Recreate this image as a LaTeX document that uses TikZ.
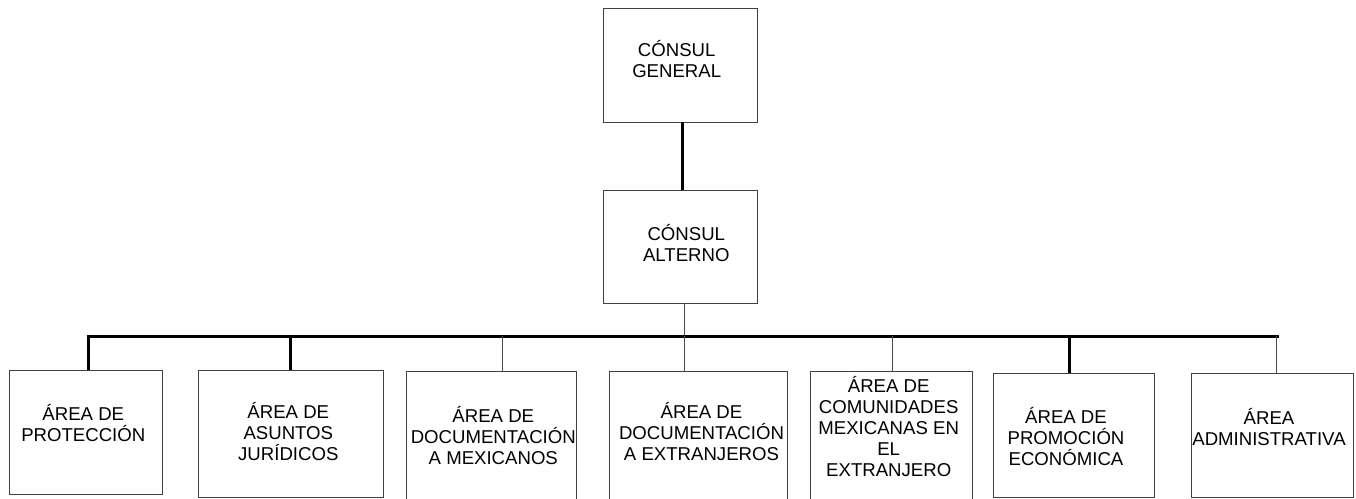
\documentclass[tikz,border=0pt]{standalone}
\usepackage{fontspec}
\setmainfont{Liberation Sans}
\begin{document}
\begin{tikzpicture}[x=1pt,y=-1pt,
  caja/.style={rectangle,draw=black!75,line width=0.8pt,inner sep=0pt},
  rotulo/.style={align=center,inner sep=0pt,anchor=south,font=\fontsize{18.6}{21}\selectfont},
  grueso/.style={line width=3pt},
  fino/.style={draw=black!70,line width=0.9pt}]
\useasboundingbox (0,0) rectangle (1356,498);

\path (680.3,65.3) node[caja,minimum width=154pt,minimum height=113.3pt] (cg) {};
\path (676.7,78.3) node[rotulo] (cgT) {CÓNSUL\\GENERAL};
\path (680.3,246.7) node[caja,minimum width=154pt,minimum height=113.3pt] (ca) {};
\path (686.3,261.7) node[rotulo] (caT) {CÓNSUL\\ALTERNO};

\path (86,432.7) node[caja,minimum width=153.4pt,minimum height=124pt] (prot) {};
\path (83.3,442) node[rotulo] (protT) {ÁREA DE\\PROTECCIÓN};
\path (291,434) node[caja,minimum width=184.6pt,minimum height=126.6pt] (jur) {};
\path (288.3,461.3) node[rotulo] (jurT) {ÁREA DE\\ASUNTOS\\JURÍDICOS};
\path (491.7,436.7) node[caja,minimum width=170pt,minimum height=130.7pt] (docmex) {};
\path (493.3,464.5) node[rotulo] (docmexT) {ÁREA DE\\DOCUMENTACIÓN\\A MEXICANOS};
\path (698.3,436.5) node[caja,minimum width=178pt,minimum height=131pt] (docext) {};
\path (701.5,461.3) node[rotulo] (docextT) {ÁREA DE\\DOCUMENTACIÓN\\A EXTRANJEROS};
\path (891.7,436.7) node[caja,minimum width=162pt,minimum height=130.7pt] (com) {};
\path (888.7,477.3) node[rotulo] (comT) {ÁREA DE\\COMUNIDADES\\MEXICANAS EN\\EL\\EXTRANJERO};
\path (1073.8,435.3) node[caja,minimum width=161pt,minimum height=124pt] (prom) {};
\path (1066,466.3) node[rotulo] (promT) {ÁREA DE\\PROMOCIÓN\\ECONÓMICA};
\path (1272.5,435.3) node[caja,minimum width=161.6pt,minimum height=124pt] (adm) {};
\path (1269,446.3) node[rotulo] (admT) {ÁREA\\ADMINISTRATIVA};

\coordinate (bi) at (86.8,336.3);
\coordinate (bd) at (1278.8,336.3);
\coordinate (d1) at (88.3,336.3);
\coordinate (d2) at (290.7,336.3);
\coordinate (d3) at (502.3,336.3);
\coordinate (d4) at (684,336.3);
\coordinate (d5) at (892.3,336.3);
\coordinate (d6) at (1069.3,336.3);
\coordinate (d7) at (1276,336.3);

\draw[grueso] ([xshift=2.4pt]cg.south) -- ([xshift=2.4pt]ca.north);
\draw[fino] (ca.south -| d4) -- (d4);
\draw[grueso] (bi) -- (bd);
\draw[grueso] (d1) -- (d1 |- prot.north);
\draw[grueso] (d2) -- (d2 |- jur.north);
\draw[fino] (d3) -- (d3 |- docmex.north);
\draw[fino] (d4) -- (d4 |- docext.north);
\draw[fino] (d5) -- (d5 |- com.north);
\draw[grueso] (d6) -- (d6 |- prom.north);
\draw[fino] (d7) -- (d7 |- adm.north);
\end{tikzpicture}
\end{document}
